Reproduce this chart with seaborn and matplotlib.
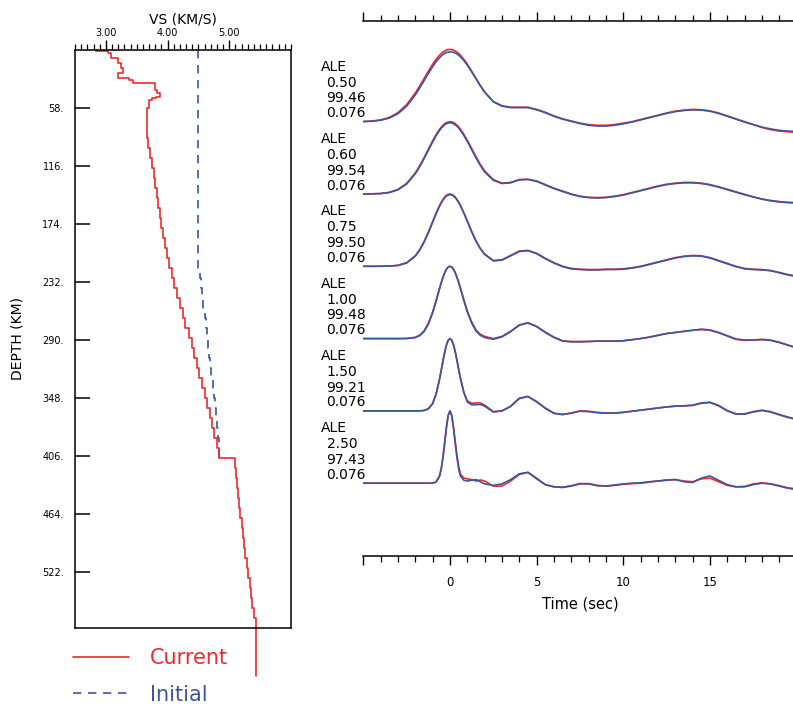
import numpy as np
import pandas as pd
import matplotlib
matplotlib.use("Agg")
import matplotlib.pyplot as plt
import seaborn as sns
from matplotlib.ticker import MultipleLocator

sns.set_theme(style="ticks", rc={
    "axes.edgecolor": "black", "text.color": "black", "axes.labelcolor": "black",
    "xtick.color": "black", "ytick.color": "black",
})
plt.rcParams["font.family"] = ["DejaVu Sans"]

RED = "#ec2a2e"
BLUE = "#3b55a3"

# ---------------- velocity model (left panel) ----------------
current_depth_km = [0, 1, 3, 8, 13, 18, 23, 28, 30, 33, 40, 43, 47, 48, 50,
                    58, 68, 78, 88, 98, 108, 118, 128, 138, 148, 158, 168, 178,
                    188, 198, 208, 218, 228, 238, 248, 258, 268, 278, 288, 298,
                    308, 318, 328, 338, 348, 358, 368, 378, 388, 398, 408, 418,
                    428, 438, 448, 458, 468, 478, 488, 498, 508, 518, 528, 538,
                    548, 558, 568, 626]
current_vs = [2.84, 3.03, 3.08, 3.20, 3.25, 3.28, 3.20, 3.38, 3.44, 3.80, 3.83,
              3.88, 3.81, 3.74, 3.70,
              3.67, 3.66, 3.66, 3.68, 3.72, 3.75, 3.78, 3.80, 3.83, 3.85, 3.88,
              3.90, 3.93, 3.96, 3.99, 4.03, 4.07, 4.11, 4.15, 4.20, 4.25, 4.29,
              4.34, 4.39, 4.43, 4.47, 4.51, 4.56, 4.60, 4.64, 4.68, 4.72, 4.76,
              4.80, 4.84, 5.10, 5.11, 5.13, 5.14, 5.16, 5.18, 5.20, 5.22, 5.24,
              5.26, 5.28, 5.31, 5.33, 5.35, 5.37, 5.40, 5.44, 5.44]
initial_depth_km = [0, 218, 228, 238, 248, 258, 268, 278, 288, 298, 308, 318,
                    328, 338, 348, 358, 368, 378, 388, 398, 408]
initial_vs = [4.50, 4.52, 4.54, 4.56, 4.58, 4.60, 4.62, 4.64, 4.66, 4.67, 4.69,
              4.71, 4.73, 4.75, 4.77, 4.78, 4.80, 4.81, 4.83, 4.84, 4.84]
vs_ticks = [3.0, 4.0, 5.0]
vs_tick_labels = ["3.00", "4.00", "5.00"]
depth_ticks = [58, 116, 174, 232, 290, 348, 406, 464, 522]
depth_tick_labels = ["58.", "116.", "174.", "232.", "290.", "348.", "406.",
                     "464.", "522."]
legend_labels = ["Current", "Initial"]

# ---------------- receiver functions (right panel) ----------------
time_s = [-5, -4.5, -4, -3.5, -3, -2.5, -2, -1.75, -1.5, -1.25, -1, -0.8, -0.6,
          -0.5, -0.4, -0.3, -0.2, -0.1,
          0, 0.1, 0.2, 0.3, 0.4, 0.5, 0.6, 0.8, 1, 1.25, 1.5, 1.75, 2,
          2.5, 3, 3.5, 4, 4.5, 5, 5.5, 6, 6.5, 7, 7.5, 8, 8.5, 9, 9.5, 10,
          10.5, 11, 11.5, 12, 12.5, 13, 13.5, 14, 14.5, 15, 15.5, 16, 16.5,
          17, 17.5, 18, 18.5, 19, 19.5, 20]

obs_050 = [0.003, 0.009, 0.025, 0.059, 0.125, 0.236, 0.397, 0.493, 0.595, 0.697,
           0.794, 0.863, 0.920, 0.944, 0.964, 0.979, 0.991, 0.998,
           1.0, 0.998, 0.991, 0.979, 0.964, 0.944, 0.92, 0.864, 0.797, 0.70,
           0.60, 0.50, 0.41,
           0.28, 0.22, 0.20, 0.20, 0.20, 0.17, 0.13, 0.08, 0.04, 0.01,
           -0.02, -0.04, -0.05, -0.05, -0.04, -0.02, 0.0, 0.03, 0.06, 0.09,
           0.12, 0.145, 0.16, 0.17, 0.165, 0.15, 0.12, 0.08, 0.04, 0.0,
           -0.04, -0.08, -0.11, -0.13, -0.14, -0.145]
pred_050 = [0.002, 0.007, 0.02, 0.05, 0.11, 0.215, 0.37, 0.465, 0.565, 0.665,
            0.76, 0.83, 0.885, 0.91, 0.93, 0.946, 0.957, 0.963,
            0.965, 0.965, 0.96, 0.95, 0.937, 0.92, 0.898, 0.846, 0.782, 0.69,
            0.595, 0.50, 0.41,
            0.275, 0.215, 0.195, 0.195, 0.195, 0.165, 0.125, 0.075, 0.035, 0.005,
            -0.025, -0.05, -0.06, -0.06, -0.05, -0.03, -0.005, 0.025, 0.055, 0.085,
            0.115, 0.14, 0.155, 0.165, 0.16, 0.145, 0.115, 0.075, 0.035, -0.005,
            -0.04, -0.075, -0.10, -0.12, -0.13, -0.135]

obs_060 = [0.0, 0.002, 0.007, 0.023, 0.063, 0.146, 0.292, 0.389, 0.50, 0.618,
           0.735, 0.821, 0.895, 0.926, 0.952, 0.973, 0.988, 0.997,
           1.0, 0.997, 0.988, 0.973, 0.953, 0.928, 0.898, 0.826, 0.743, 0.63,
           0.515, 0.41, 0.32,
           0.20, 0.15, 0.16, 0.20, 0.205, 0.18, 0.13, 0.08, 0.04, 0.0,
           -0.03, -0.045, -0.05, -0.045, -0.03, -0.01, 0.02, 0.05, 0.08, 0.11,
           0.135, 0.15, 0.16, 0.16, 0.15, 0.13, 0.10, 0.065, 0.03, -0.005,
           -0.04, -0.07, -0.095, -0.11, -0.12, -0.125]
pred_060 = [0.0, 0.002, 0.006, 0.02, 0.058, 0.138, 0.28, 0.375, 0.485, 0.603,
            0.72, 0.806, 0.88, 0.911, 0.937, 0.958, 0.973, 0.982,
            0.985, 0.982, 0.973, 0.958, 0.938, 0.913, 0.883, 0.811, 0.728, 0.615,
            0.50, 0.395, 0.305,
            0.19, 0.145, 0.155, 0.195, 0.20, 0.175, 0.125, 0.075, 0.035, -0.005,
            -0.035, -0.05, -0.055, -0.05, -0.035, -0.015, 0.015, 0.045, 0.075, 0.105,
            0.13, 0.145, 0.155, 0.155, 0.145, 0.125, 0.095, 0.06, 0.025, -0.01,
            -0.04, -0.07, -0.09, -0.105, -0.115, -0.12]

obs_075 = [0.0, 0.0, 0.001, 0.003, 0.013, 0.049, 0.146, 0.229, 0.339, 0.471,
           0.618, 0.735, 0.841, 0.887, 0.926, 0.958, 0.981, 0.995,
           1.0, 0.995, 0.981, 0.958, 0.927, 0.889, 0.844, 0.74, 0.625, 0.48,
           0.35, 0.245, 0.17,
           0.08, 0.09, 0.15, 0.21, 0.22, 0.18, 0.11, 0.05, 0.0, -0.03,
           -0.04, -0.045, -0.045, -0.04, -0.04, -0.035, -0.02, 0.0, 0.03, 0.06,
           0.09, 0.12, 0.14, 0.15, 0.145, 0.12, 0.08, 0.04, 0.0, -0.03,
           -0.04, -0.045, -0.06, -0.09, -0.12, -0.14]
pred_075 = [0.0, 0.0, 0.001, 0.003, 0.012, 0.046, 0.14, 0.222, 0.33, 0.462,
            0.608, 0.725, 0.832, 0.878, 0.917, 0.949, 0.972, 0.986,
            0.99, 0.986, 0.973, 0.951, 0.921, 0.884, 0.84, 0.738, 0.625, 0.482,
            0.352, 0.245, 0.165,
            0.075, 0.085, 0.145, 0.205, 0.215, 0.175, 0.105, 0.045, -0.005, -0.035,
            -0.045, -0.05, -0.05, -0.045, -0.045, -0.04, -0.025, -0.005, 0.025, 0.055,
            0.085, 0.115, 0.135, 0.145, 0.14, 0.115, 0.075, 0.035, -0.005, -0.035,
            -0.045, -0.05, -0.06, -0.085, -0.115, -0.135]

obs_100 = [0.0, 0.0, 0.0, 0.0, 0.0, 0.002, 0.018, 0.047, 0.105, 0.21,
           0.368, 0.527, 0.698, 0.779, 0.852, 0.914, 0.961, 0.99,
           1.0, 0.99, 0.962, 0.916, 0.855, 0.784, 0.705, 0.54, 0.385, 0.23,
           0.12, 0.06, 0.03,
           0.0, 0.03, 0.10, 0.19, 0.22, 0.17, 0.09, 0.02, -0.03, -0.04,
           -0.04, -0.04, -0.035, -0.035, -0.035, -0.03, -0.015, 0.0, 0.02, 0.045,
           0.07, 0.085, 0.10, 0.115, 0.125, 0.115, 0.08, 0.035, -0.01, -0.025,
           -0.02, -0.01, -0.02, -0.05, -0.09, -0.13]
pred_100 = [0.0, 0.0, 0.0, 0.0, 0.0, 0.001, 0.014, 0.04, 0.095, 0.198,
            0.355, 0.515, 0.69, 0.773, 0.848, 0.912, 0.961, 0.991,
            1.0, 0.99, 0.96, 0.912, 0.848, 0.775, 0.694, 0.525, 0.37, 0.215,
            0.105, 0.045, 0.015,
            -0.01, 0.025, 0.095, 0.185, 0.215, 0.165, 0.085, 0.015, -0.035, -0.045,
            -0.045, -0.04, -0.035, -0.035, -0.035, -0.03, -0.015, 0.0, 0.02, 0.045,
            0.07, 0.085, 0.10, 0.115, 0.13, 0.12, 0.085, 0.04, -0.005, -0.02,
            -0.02, -0.015, -0.025, -0.055, -0.09, -0.125]

obs_150 = [0.0, 0.0, 0.0, 0.0, 0.0, 0.0, 0.0, 0.001, 0.006, 0.03,
           0.105, 0.237, 0.445, 0.57, 0.698, 0.817, 0.914, 0.978,
           1.0, 0.978, 0.915, 0.82, 0.70, 0.575, 0.455, 0.26, 0.14, 0.105,
           0.11, 0.11, 0.08,
           -0.01, 0.0, 0.06, 0.17, 0.20, 0.13, 0.04, -0.03, -0.05, -0.03,
           0.0, -0.005, -0.02, -0.03, -0.03, -0.02, -0.005, 0.01, 0.025, 0.04,
           0.055, 0.065, 0.07, 0.075, 0.105, 0.115, 0.07, 0.0, -0.045, -0.04,
           -0.01, 0.01, -0.01, -0.05, -0.085, -0.115]
pred_150 = [0.0, 0.0, 0.0, 0.0, 0.0, 0.0, 0.0, 0.001, 0.005, 0.027,
            0.098, 0.228, 0.435, 0.562, 0.692, 0.813, 0.912, 0.978,
            1.0, 0.98, 0.918, 0.824, 0.705, 0.58, 0.458, 0.255, 0.125, 0.085,
            0.085, 0.09, 0.065,
            -0.015, 0.0, 0.065, 0.175, 0.20, 0.125, 0.035, -0.035, -0.05, -0.03,
            -0.005, -0.01, -0.025, -0.03, -0.03, -0.02, -0.005, 0.01, 0.025, 0.04,
            0.055, 0.065, 0.07, 0.08, 0.11, 0.12, 0.075, 0.005, -0.04, -0.045,
            -0.015, 0.005, -0.015, -0.055, -0.09, -0.12]

obs_250 = [0.0, 0.0, 0.0, 0.0, 0.0, 0.0, 0.0, 0.0, 0.0, 0.0,
           0.002, 0.018, 0.105, 0.21, 0.368, 0.57, 0.779, 0.939,
           1.0, 0.94, 0.785, 0.58, 0.39, 0.24, 0.13, 0.07, 0.06, 0.05,
           0.03, 0.045, 0.03,
           -0.04, -0.04, 0.03, 0.12, 0.15, 0.07, -0.02, -0.05, -0.06, -0.04,
           -0.01, -0.005, -0.03, -0.04, -0.03, -0.015, -0.005, 0.0, 0.015, 0.03,
           0.04, 0.05, 0.03, 0.02, 0.06, 0.07, 0.02, -0.03, -0.05, -0.045,
           -0.01, 0.005, -0.01, -0.04, -0.07, -0.09]
pred_250 = [0.0, 0.0, 0.0, 0.0, 0.0, 0.0, 0.0, 0.0, 0.0, 0.0,
            0.001, 0.015, 0.095, 0.20, 0.36, 0.565, 0.778, 0.94,
            1.0, 0.935, 0.77, 0.56, 0.36, 0.20, 0.10, 0.04, 0.03, 0.04,
            0.05, 0.02, -0.01,
            -0.03, -0.01, 0.05, 0.13, 0.15, 0.06, -0.02, -0.05, -0.055, -0.035,
            -0.005, -0.01, -0.035, -0.04, -0.025, -0.01, 0.0, 0.005, 0.02, 0.03,
            0.045, 0.05, 0.02, 0.01, 0.07, 0.10, 0.04, -0.02, -0.05, -0.05,
            -0.02, 0.0, -0.01, -0.035, -0.065, -0.08]

station = "ALE"
alpha_labels = ["0.50", "0.60", "0.75", "1.00", "1.50", "2.50"]
fit_labels = ["99.46", "99.54", "99.50", "99.48", "99.21", "97.43"]
ray_param_labels = ["0.076", "0.076", "0.076", "0.076", "0.076", "0.076"]
time_ticks = [-5, 0, 5, 10, 15, 20]
time_tick_labels = ["", "0", "5", "10", "15", ""]

obs_traces = [obs_050, obs_060, obs_075, obs_100, obs_150, obs_250]
pred_traces = [pred_050, pred_060, pred_075, pred_100, pred_150, pred_250]
for arr in obs_traces + pred_traces:
    assert len(arr) == len(time_s), len(arr)
assert len(current_vs) == len(current_depth_km)
assert len(initial_vs) == len(initial_depth_km)

# ---------------- figure ----------------
W, H = 793, 704
fig = plt.figure(figsize=(W / 100, H / 100), dpi=100)
ax1 = fig.add_axes([75 / W, 1 - 628 / H, 216 / W, 578 / H])
ax2 = fig.add_axes([363.3 / W, 1 - 556 / H, 433.3 / W, 535.3 / H])

# left: velocity profile
sns.lineplot(x=initial_vs, y=initial_depth_km, sort=False, estimator=None,
             ax=ax1, color=BLUE, lw=1.2, drawstyle="steps-pre",
             linestyle=(0, (5, 4)), label=legend_labels[1])
sns.lineplot(x=current_vs, y=current_depth_km, sort=False, estimator=None,
             ax=ax1, color=RED, lw=1.2, drawstyle="steps-pre", clip_on=False,
             label=legend_labels[0])
ax1.set_xlim(2.5, 6.0)
ax1.set_ylim(578, 0)
for s in ax1.spines.values():
    s.set_linewidth(1.1)
ax1.xaxis.set_ticks_position("top")
ax1.xaxis.set_label_position("top")
ax1.set_xticks(vs_ticks, vs_tick_labels)
ax1.xaxis.set_minor_locator(MultipleLocator(0.1))
ax1.tick_params(axis="x", which="major", direction="out", length=7, width=1.0,
                labelsize=7, pad=2, top=True, bottom=False, labeltop=True,
                labelbottom=False)
ax1.tick_params(axis="x", which="minor", direction="out", length=4.5,
                width=0.9, top=True, bottom=False)
ax1.set_yticks(depth_ticks, depth_tick_labels)
ax1.tick_params(axis="y", which="major", direction="in", length=11, width=1.1,
                labelsize=7, pad=8, left=True, right=False)
ax1.set_xlabel("VS (KM/S)", fontsize=10, labelpad=3)
ax1.set_ylabel("DEPTH (KM)", fontsize=10, labelpad=13)

handles, labels = ax1.get_legend_handles_labels()
order = [labels.index(l) for l in legend_labels]
ax1.legend([handles[i] for i in order], [labels[i] for i in order],
           loc="upper left", bbox_to_anchor=(73 / W, 1 - 648 / H),
           bbox_transform=fig.transFigure, frameon=False, fontsize=15,
           labelcolor="linecolor", handlelength=2.7, handletextpad=1.0,
           labelspacing=0.8, borderpad=0, borderaxespad=0)

# right: receiver functions
frames = []
for k, (o, p) in enumerate(zip(obs_traces, pred_traces)):
    frames.append(pd.DataFrame({"time": time_s, "amp": np.asarray(o) - k,
                                "trace": k, "series": "obs"}))
    frames.append(pd.DataFrame({"time": time_s, "amp": np.asarray(p) - k,
                                "trace": k, "series": "pred"}))
df = pd.concat(frames, ignore_index=True)
sns.lineplot(data=df, x="time", y="amp", hue="series", units="trace",
             estimator=None, sort=False, hue_order=["obs", "pred"],
             palette={"obs": RED, "pred": BLUE}, lw=1.2, legend=False, ax=ax2,
             solid_joinstyle="round")
ax2.set_xlim(-5, 20)
ax2.set_ylim(-6.007, 1.397)
ax2.spines["left"].set_visible(False)
ax2.spines["right"].set_visible(False)
ax2.spines["top"].set_linewidth(1.1)
ax2.spines["bottom"].set_linewidth(1.1)
ax2.set_yticks([])
ax2.set_ylabel("")
ax2.set_xticks(time_ticks, time_tick_labels)
ax2.xaxis.set_minor_locator(MultipleLocator(1))
ax2.tick_params(axis="x", which="major", direction="out", length=6.5, width=1.0,
                top=True, bottom=True, labeltop=False, labelsize=8.5, pad=8)
ax2.tick_params(axis="x", which="minor", direction="out", length=4, width=0.9,
                top=True, bottom=True)
ax2.set_xlabel("Time (sec)", fontsize=10.5, labelpad=5)

for k in range(len(alpha_labels)):
    base = -k
    ax2.text(-7.44, base + 0.705, station, fontsize=10, ha="left", va="baseline")
    ax2.text(-7.12, base + 0.484, alpha_labels[k], fontsize=10, ha="left", va="baseline")
    ax2.text(-7.12, base + 0.268, fit_labels[k], fontsize=10, ha="left", va="baseline")
    ax2.text(-7.12, base + 0.061, ray_param_labels[k], fontsize=10, ha="left", va="baseline")

fig.savefig("out.png", dpi=100)
